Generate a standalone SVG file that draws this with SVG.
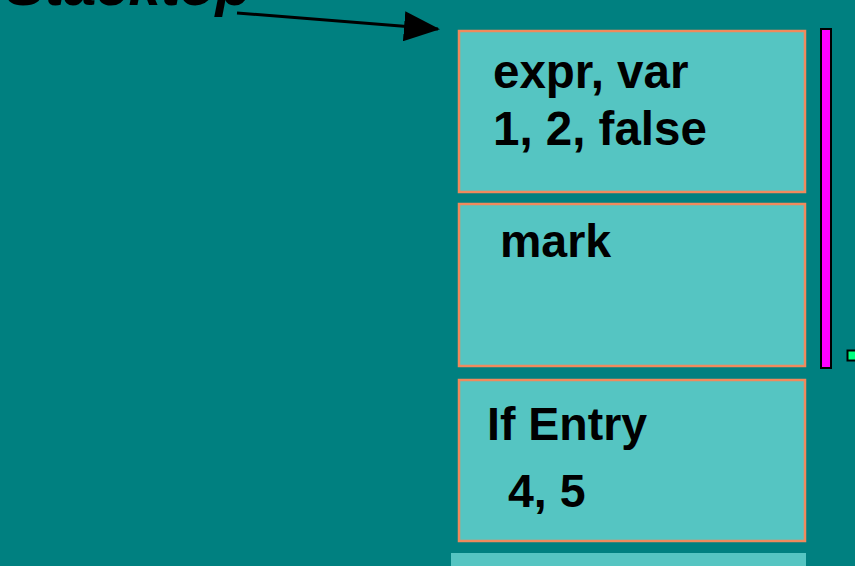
<svg xmlns="http://www.w3.org/2000/svg" width="855" height="566" viewBox="0 0 855 566">
<style>
.box{fill:#55c5c2;stroke:#f08a5d;stroke-width:2.5}
.t{font-family:"Liberation Sans",Arial,sans-serif;font-weight:bold;font-size:46.5px;fill:#000}
.big{font-size:47.5px}
.st{font-style:italic;font-size:58px}
</style>
<defs>
<marker id="ah" markerUnits="userSpaceOnUse" markerWidth="36" markerHeight="30" refX="34" refY="15" orient="auto">
<path d="M0,0 L36,15 L0,30 Z" fill="#000"/>
</marker>
</defs>
<rect width="855" height="566" fill="#008080"/>
<text x="6" y="5" class="t st">Stacktop</text>
<g id="connectors">
<line x1="237" y1="13" x2="438" y2="29" stroke="#000" stroke-width="3" marker-end="url(#ah)"/>
</g>
<g id="box1">
<rect class="box" x="459" y="31" width="346" height="161"/>
<text class="t big" x="493" y="88">expr, var</text>
<text class="t big" x="493" y="145">1, 2, false</text>
</g>
<g id="box2">
<rect class="box" x="459" y="204" width="346" height="162"/>
<text class="t" x="500" y="257">mark</text>
</g>
<g id="box3">
<rect class="box" x="459" y="380" width="346" height="161"/>
<text class="t" x="487" y="440">If Entry</text>
<text class="t" x="508" y="507">4, 5</text>
</g>
<g id="box4">
<rect x="451" y="553" width="355" height="20" fill="#55c5c2"/>
</g>
<g id="bar">
<rect x="821" y="29" width="10" height="339" fill="#ff00ff" stroke="#000" stroke-width="2"/>
</g>
<g id="small">
<rect x="847.5" y="350.5" width="10" height="10" fill="#00ff80" stroke="#000" stroke-width="2"/>
</g>
</svg>
